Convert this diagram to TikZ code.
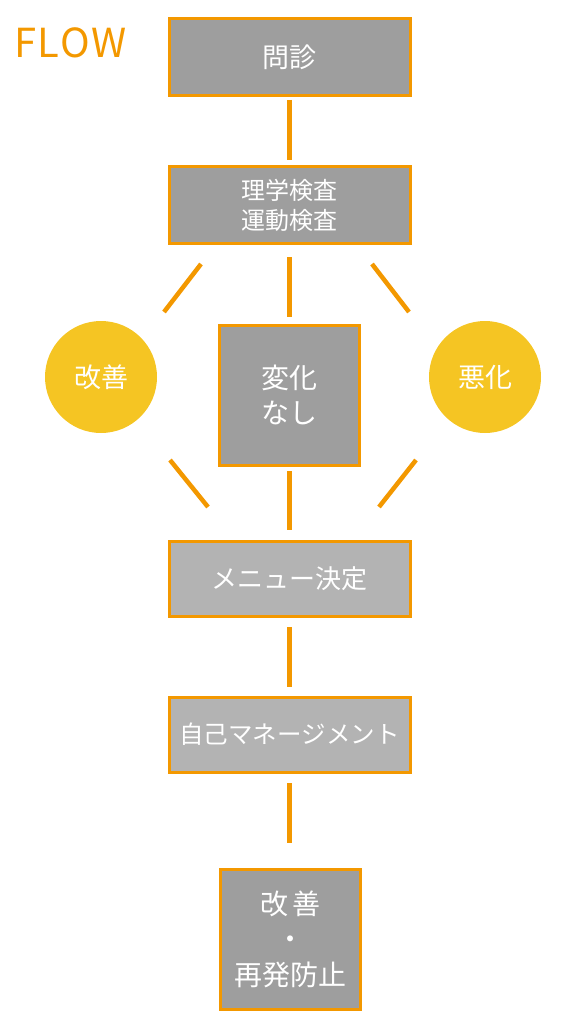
\documentclass[tikz,border=0pt]{standalone}
\usepackage{fontspec}
\newfontfamily\jp{Noto Sans CJK JP}
\usetikzlibrary{calc}
\definecolor{orng}{HTML}{F39800}
\definecolor{gdark}{HTML}{9E9E9E}
\definecolor{glight}{HTML}{B3B3B3}
\definecolor{ylw}{HTML}{F5C523}
\tikzset{
  box/.style={draw=orng, line width=3pt, fill=gdark, text=white, inner sep=0pt, outer sep=0pt, align=center},
  lbox/.style={box, fill=glight},
  circ/.style={circle, fill=ylw, text=white, inner sep=0pt, outer sep=0pt, minimum size=112pt},
  conn/.style={draw=orng, line width=4.5pt},
}
\begin{document}
\begin{tikzpicture}[x=1pt, y=-1pt]
\useasboundingbox (0,0) rectangle (568,1024);
\node[anchor=base west, text=orng, inner sep=0pt, font=\jp\fontsize{40}{40}\selectfont] (flow) at (14,58) {\addfontfeatures{LetterSpace=4}FLOW};
\node[box, minimum width=241pt, minimum height=77pt, font=\jp\fontsize{27}{32}\selectfont] (n1) at (289.5,57) {問診};
\node[box, minimum width=241pt, minimum height=77pt, font=\jp\fontsize{24}{30}\selectfont] (n2) at (289.5,205) {理学検査\\運動検査};
\node[box, minimum width=140pt, minimum height=140pt, font=\jp\fontsize{28}{35}\selectfont] (n3) at (289.5,395) {変化\\なし};
\node[circ, font=\jp\fontsize{27}{32}\selectfont] (cL) at (101,377) {改善};
\node[circ, font=\jp\fontsize{27}{32}\selectfont] (cR) at (485,377) {悪化};
\node[lbox, minimum width=241pt, minimum height=75pt, font=\jp\fontsize{26}{32}\selectfont] (n4) at (289.5,579) {メニュー決定};
\node[lbox, minimum width=241pt, minimum height=75pt, font=\jp\fontsize{24.5}{30}\selectfont] (n5) at (289.5,734.5) {自己マネージメント};
\node[box, minimum width=140pt, minimum height=140pt, font=\jp\fontsize{28}{35.5}\selectfont] (n6) at (290.5,939) {改\,善\\・\\再発防止};
% connectors
\draw[conn, shorten <=4.5pt, shorten >=6.5pt] (n1.south) -- (n2.north);
\draw[conn, shorten <=13.5pt, shorten >=8pt] (n2.south) -- (n3.north);
\draw[conn] ($(n2.south west)+(32,20.5)$) -- ($(cL.north east)+(23.4,-25.4)$);
\draw[conn] ($(n2.south east)+(-38,20.5)$) -- ($(cR.north west)+(-36.4,-25.4)$);
\draw[conn] ($(cL.south east)+(29.4,43.4)$) -- ($(n4.north west)+(39,-34.5)$);
\draw[conn] ($(cR.south west)+(-29.4,43.4)$) -- ($(n4.north east)+(-31,-34.5)$);
\draw[conn, shorten <=6pt, shorten >=11.5pt] (n3.south) -- (n4.north);
\draw[conn, shorten <=10.5pt, shorten >=10pt] (n4.south) -- (n5.north);
\draw[conn, shorten <=11pt, shorten >=26pt] (n5.south) -- (n5.south |- n6.north);
\end{tikzpicture}
\end{document}
